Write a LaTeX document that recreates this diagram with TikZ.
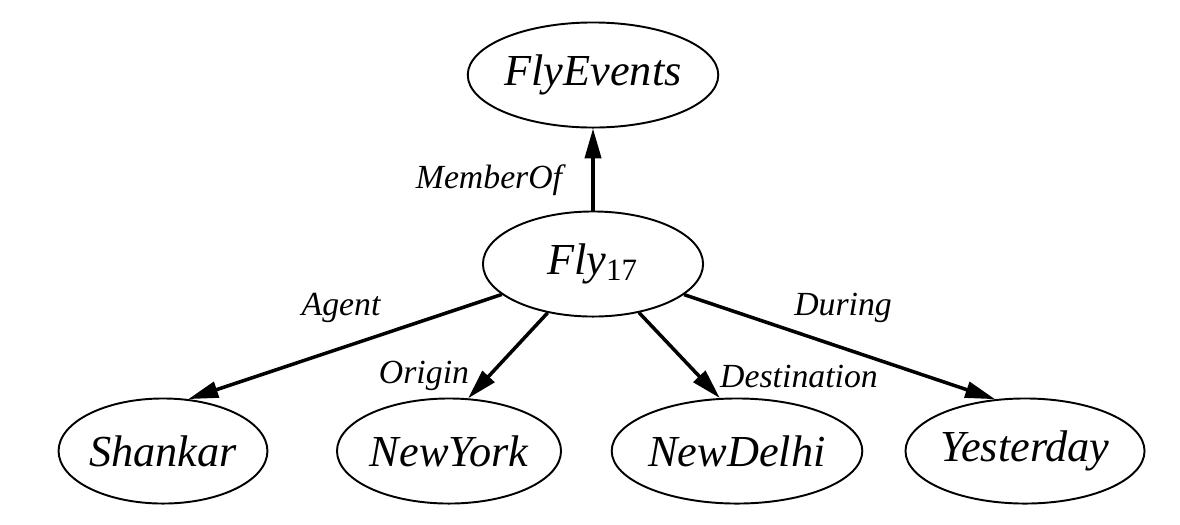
\documentclass[tikz,border=0pt]{standalone}
\usepackage{fontspec}
\setmainfont{Liberation Serif}
\usetikzlibrary{shapes.geometric, arrows.meta}
\tikzstyle{ent}=[draw, ellipse, line width=0.55pt, inner sep=0pt, minimum width=2.2cm, minimum height=1.05cm, font=\fontsize{12.6}{14}\selectfont\itshape]
\tikzstyle{rel}=[font=\fontsize{9.6}{11}\selectfont\itshape]
\tikzstyle{arr}=[->, line width=1pt]

\begin{document}
\begin{tikzpicture}[x=0.01cm, y=-0.01cm, >={Triangle[length=8.5pt,width=4.6pt]}]
	\useasboundingbox (0,0) rectangle (1180,524);
	\node[ent] (ev) at (593, 75) {FlyEvents};
	\node[ent] (fly) at (593, 264) {Fly\textsubscript{\upshape 17}};
	\node[ent, minimum width=2.05cm] (sh) at (163, 451) {Shankar};
	\node[ent] (ny) at (449, 451) {NewYork};
	\node[ent] (nd) at (737, 451) {NewDelhi};
	\node[ent] (ye) at (1025, 451) {Yesterday};
	\node[rel] (r0) at (489, 180) {MemberOf};
	\node[rel] (r1) at (341, 308) {Agent};
	\node[rel] (r2) at (424, 376) {Origin};
	\node[rel] (r3) at (799, 376) {Destination};
	\node[rel] (r4) at (843, 308) {During};
	\draw[arr] (fly) to (ev);
	\draw[arr] (fly) to (sh.64);
	\draw[arr] (fly) to (ny.70);
	\draw[arr] (fly) to (nd.108);
	\draw[arr] (fly) to (ye.120);
\end{tikzpicture}
\end{document}
